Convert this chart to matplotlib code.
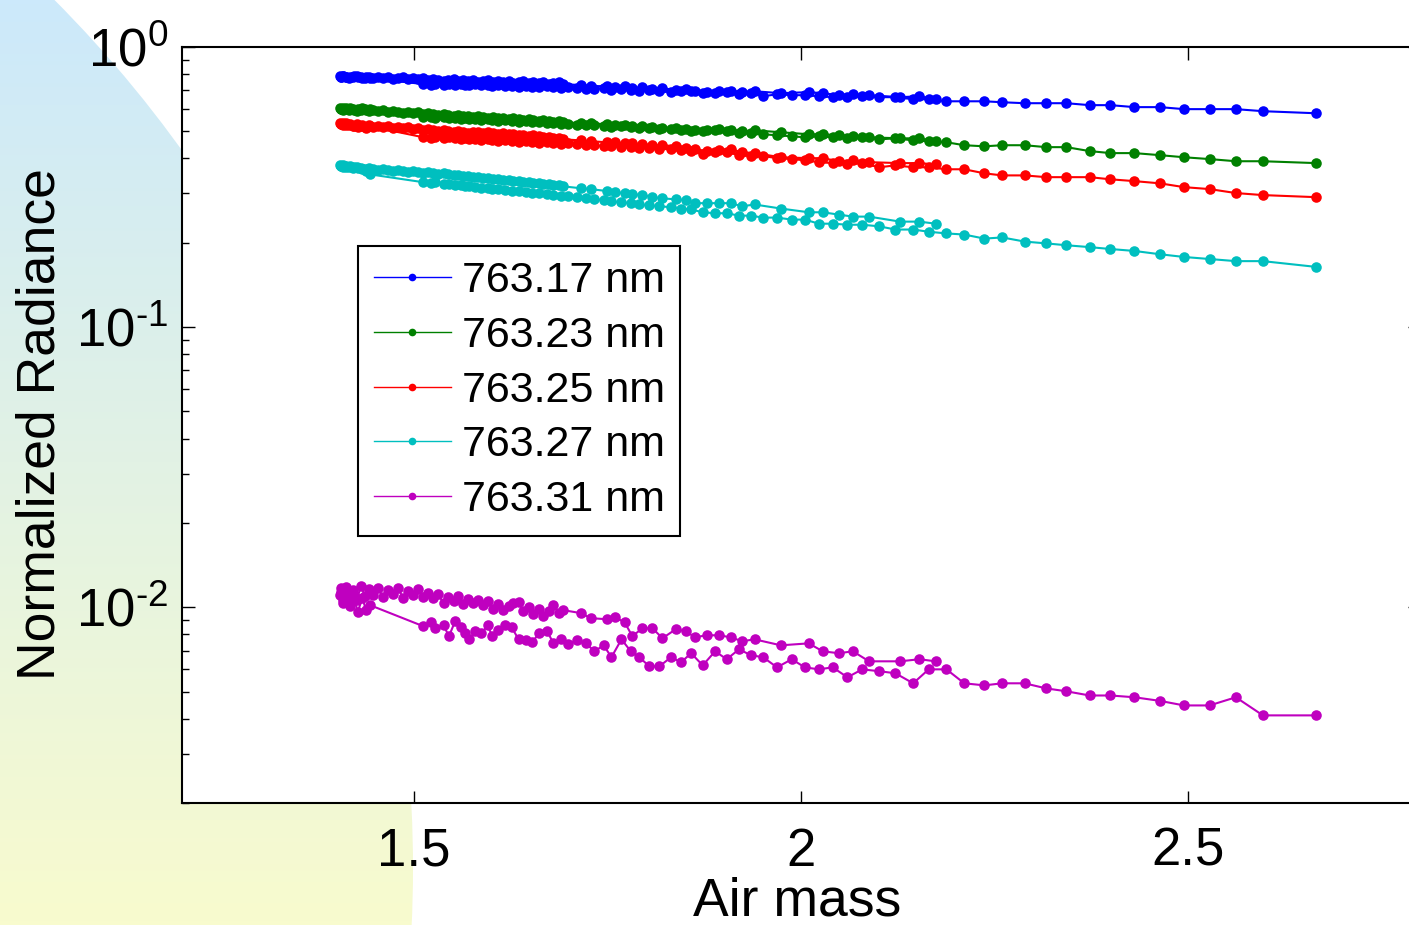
import numpy as np
import matplotlib
matplotlib.use("Agg")
import matplotlib.pyplot as plt
from matplotlib.patches import Circle
from matplotlib.ticker import NullLocator

W, H, DPI = 1409, 925, 100

FONTSIZE_LABELS = 38.5
FONTSIZE_TICKS = 38
FONTSIZE_LEGEND = 31

plt.rcParams['font.family'] = ['Liberation Sans', 'DejaVu Sans']
plt.rcParams['mathtext.fontset'] = 'custom'
plt.rcParams['mathtext.rm'] = 'Liberation Sans'
plt.rcParams['mathtext.default'] = 'regular'
plt.rcParams['axes.unicode_minus'] = False

# air mass of each spectrum: morning (falling), around noon, afternoon (rising)
airmass_am = [2.666, 2.597, 2.562, 2.528, 2.495, 2.464, 2.431, 2.400, 2.373, 2.343,
              2.317, 2.289, 2.260, 2.237, 2.211, 2.188, 2.165, 2.145, 2.122, 2.101,
              2.079, 2.060, 2.041, 2.023, 2.005, 1.988, 1.969, 1.951, 1.935, 1.920,
              1.904, 1.889, 1.873, 1.858, 1.845, 1.832, 1.817, 1.804, 1.791, 1.780,
              1.768, 1.755, 1.745, 1.733, 1.722, 1.710, 1.699, 1.690, 1.680, 1.672,
              1.662, 1.652, 1.644, 1.635, 1.626, 1.617, 1.609, 1.601, 1.595, 1.587,
              1.579, 1.571, 1.566, 1.560, 1.553, 1.545, 1.538, 1.527, 1.522, 1.512]
airmass_noon = [1.443, 1.438, 1.433, 1.427, 1.422, 1.417, 1.412, 1.408, 1.405, 1.404,
                1.405, 1.408, 1.412, 1.416, 1.421, 1.426, 1.431, 1.437, 1.442, 1.447,
                1.453, 1.460, 1.466, 1.473, 1.479, 1.486, 1.492, 1.499, 1.505, 1.512,
                1.518, 1.525, 1.531, 1.538, 1.544, 1.551, 1.557, 1.563, 1.570, 1.576,
                1.583, 1.589, 1.596, 1.602, 1.609, 1.615, 1.622, 1.628, 1.635, 1.641,
                1.648, 1.654, 1.661, 1.667, 1.674, 1.680, 1.687, 1.693]
airmass_pm = [1.716, 1.728, 1.749, 1.759, 1.772, 1.782, 1.795, 1.808, 1.821, 1.838,
              1.851, 1.863, 1.878, 1.894, 1.909, 1.924, 1.940, 1.974, 2.010, 2.028,
              2.049, 2.067, 2.088, 2.128, 2.153, 2.174]

rad_76317 = [
    # morning
    0.580, 0.590, 0.600, 0.600, 0.600, 0.610, 0.610, 0.620, 0.620, 0.630,
    0.630, 0.630, 0.635, 0.640, 0.640, 0.640, 0.651, 0.651, 0.662, 0.662,
    0.667, 0.662, 0.662, 0.667, 0.673, 0.673, 0.678, 0.667, 0.684, 0.678,
    0.690, 0.684, 0.684, 0.695, 0.695, 0.690, 0.695, 0.701, 0.695, 0.701,
    0.707, 0.701, 0.713, 0.707, 0.707, 0.713, 0.719, 0.713, 0.719, 0.725,
    0.719, 0.719, 0.725, 0.719, 0.725, 0.725, 0.731, 0.725, 0.731, 0.731,
    0.737, 0.731, 0.731, 0.737, 0.731, 0.737, 0.731, 0.737, 0.731, 0.737,
    # noon
    0.775, 0.781, 0.775, 0.781, 0.788, 0.781, 0.781, 0.788, 0.781, 0.788,
    0.781, 0.788, 0.781, 0.775, 0.781, 0.788, 0.781, 0.775, 0.781, 0.775,
    0.781, 0.775, 0.781, 0.768, 0.775, 0.781, 0.768, 0.775, 0.768, 0.775,
    0.762, 0.768, 0.762, 0.756, 0.762, 0.768, 0.756, 0.762, 0.756, 0.762,
    0.749, 0.756, 0.762, 0.749, 0.756, 0.749, 0.756, 0.743, 0.749, 0.756,
    0.743, 0.749, 0.743, 0.749, 0.737, 0.743, 0.749, 0.737,
    # afternoon
    0.731, 0.725, 0.725, 0.719, 0.725, 0.713, 0.719, 0.707, 0.713, 0.701,
    0.707, 0.695, 0.690, 0.695, 0.695, 0.690, 0.695, 0.684, 0.690, 0.684,
    0.673, 0.678, 0.673, 0.662, 0.667, 0.651]

rad_76323 = [
    0.385, 0.391, 0.391, 0.398, 0.404, 0.411, 0.418, 0.418, 0.425, 0.439,
    0.439, 0.446, 0.446, 0.442, 0.446, 0.457, 0.461, 0.464, 0.472, 0.468,
    0.476, 0.472, 0.476, 0.480, 0.476, 0.480, 0.484, 0.488, 0.492, 0.492,
    0.500, 0.504, 0.500, 0.500, 0.504, 0.508, 0.508, 0.513, 0.513, 0.517,
    0.521, 0.517, 0.521, 0.526, 0.526, 0.526, 0.530, 0.530, 0.534, 0.534,
    0.539, 0.539, 0.543, 0.539, 0.543, 0.548, 0.543, 0.548, 0.552, 0.548,
    0.552, 0.552, 0.557, 0.552, 0.557, 0.557, 0.562, 0.557, 0.562, 0.562,
    0.600, 0.595, 0.605, 0.600, 0.595, 0.605, 0.600, 0.605, 0.600, 0.605,
    0.600, 0.595, 0.605, 0.595, 0.600, 0.590, 0.595, 0.600, 0.590, 0.595,
    0.590, 0.595, 0.585, 0.590, 0.585, 0.580, 0.585, 0.580, 0.585, 0.576,
    0.580, 0.576, 0.571, 0.576, 0.571, 0.566, 0.571, 0.566, 0.566, 0.562,
    0.566, 0.562, 0.557, 0.562, 0.557, 0.557, 0.552, 0.557, 0.552, 0.548,
    0.552, 0.548, 0.543, 0.548, 0.543, 0.539, 0.543, 0.539,
    0.534, 0.534, 0.530, 0.526, 0.526, 0.521, 0.521, 0.517, 0.513, 0.513,
    0.508, 0.504, 0.504, 0.508, 0.504, 0.500, 0.504, 0.496, 0.488, 0.488,
    0.484, 0.480, 0.476, 0.472, 0.472, 0.461]

rad_76325 = [
    0.291, 0.296, 0.301, 0.311, 0.316, 0.326, 0.332, 0.337, 0.343, 0.343,
    0.343, 0.348, 0.348, 0.354, 0.366, 0.366, 0.372, 0.372, 0.378, 0.372,
    0.385, 0.381, 0.385, 0.388, 0.394, 0.398, 0.401, 0.408, 0.408, 0.411,
    0.421, 0.421, 0.414, 0.425, 0.428, 0.432, 0.432, 0.435, 0.435, 0.439,
    0.439, 0.442, 0.442, 0.446, 0.446, 0.450, 0.453, 0.450, 0.453, 0.457,
    0.453, 0.457, 0.461, 0.457, 0.461, 0.464, 0.461, 0.464, 0.468, 0.464,
    0.468, 0.468, 0.472, 0.468, 0.472, 0.476, 0.472, 0.476, 0.472, 0.476,
    0.521, 0.513, 0.526, 0.517, 0.521, 0.530, 0.526, 0.534, 0.530, 0.534,
    0.530, 0.526, 0.534, 0.526, 0.521, 0.530, 0.521, 0.517, 0.526, 0.517,
    0.521, 0.517, 0.521, 0.513, 0.517, 0.513, 0.517, 0.508, 0.513, 0.504,
    0.508, 0.504, 0.500, 0.504, 0.500, 0.496, 0.500, 0.496, 0.492, 0.496,
    0.496, 0.492, 0.496, 0.492, 0.488, 0.492, 0.488, 0.488, 0.484, 0.484,
    0.480, 0.484, 0.480, 0.476, 0.476, 0.472, 0.472, 0.468,
    0.464, 0.461, 0.457, 0.457, 0.453, 0.453, 0.450, 0.446, 0.446, 0.442,
    0.435, 0.432, 0.425, 0.428, 0.432, 0.421, 0.418, 0.404, 0.401, 0.401,
    0.391, 0.394, 0.388, 0.385, 0.385, 0.381]

rad_76327 = [
    0.164, 0.172, 0.172, 0.175, 0.178, 0.182, 0.187, 0.190, 0.193, 0.196,
    0.199, 0.202, 0.209, 0.207, 0.214, 0.216, 0.219, 0.223, 0.223, 0.229,
    0.232, 0.232, 0.234, 0.234, 0.242, 0.242, 0.246, 0.246, 0.250, 0.250,
    0.255, 0.255, 0.257, 0.263, 0.265, 0.268, 0.270, 0.272, 0.274, 0.277,
    0.279, 0.281, 0.284, 0.286, 0.288, 0.291, 0.293, 0.293, 0.296, 0.298,
    0.301, 0.301, 0.303, 0.306, 0.306, 0.308, 0.311, 0.311, 0.313, 0.313,
    0.316, 0.318, 0.318, 0.321, 0.321, 0.324, 0.324, 0.329, 0.326, 0.329,
    0.351, 0.360, 0.366, 0.369, 0.372, 0.375, 0.372, 0.378, 0.375, 0.378,
    0.375, 0.372, 0.375, 0.372, 0.369, 0.372, 0.369, 0.366, 0.369, 0.366,
    0.363, 0.366, 0.363, 0.360, 0.363, 0.360, 0.357, 0.360, 0.357, 0.354,
    0.357, 0.354, 0.351, 0.354, 0.351, 0.348, 0.348, 0.345, 0.345, 0.343,
    0.343, 0.340, 0.340, 0.337, 0.337, 0.334, 0.334, 0.332, 0.332, 0.329,
    0.329, 0.326, 0.326, 0.324, 0.324, 0.321, 0.321, 0.318,
    0.313, 0.311, 0.306, 0.303, 0.301, 0.298, 0.296, 0.291, 0.288, 0.286,
    0.284, 0.277, 0.277, 0.277, 0.277, 0.270, 0.274, 0.265, 0.257, 0.257,
    0.252, 0.248, 0.248, 0.238, 0.238, 0.234]

rad_76331 = [
    0.00411, 0.00411, 0.00477, 0.00446, 0.00446, 0.00463, 0.00477, 0.00484, 0.00484, 0.00501,
    0.00513, 0.00535, 0.00535, 0.00526, 0.00535, 0.00600, 0.00600, 0.00535, 0.00581, 0.00591,
    0.00600, 0.00562, 0.00610, 0.00600, 0.00610, 0.00652, 0.00610, 0.00663, 0.00674, 0.00708,
    0.00652, 0.00696, 0.00620, 0.00685, 0.00636, 0.00663, 0.00615, 0.00615, 0.00663, 0.00696,
    0.00768, 0.00663, 0.00731, 0.00696, 0.00743, 0.00762, 0.00737, 0.00768, 0.00743, 0.00821,
    0.00807, 0.00750, 0.00762, 0.00768, 0.00848, 0.00862, 0.00827, 0.00788, 0.00862, 0.00807,
    0.00821, 0.00768, 0.00807, 0.00848, 0.00891, 0.00788, 0.00862, 0.00841, 0.00884, 0.00855,
    0.01017, 0.00976, 0.01077, 0.00960, 0.01104, 0.01008, 0.01151, 0.01059, 0.01170, 0.01104,
    0.01132, 0.01033, 0.01179, 0.01077, 0.01151, 0.01059, 0.01189, 0.01095, 0.01160, 0.01104,
    0.01170, 0.01086, 0.01151, 0.01113, 0.01170, 0.01077, 0.01141, 0.01104, 0.01160, 0.01086,
    0.01123, 0.01077, 0.01113, 0.01033, 0.01086, 0.01051, 0.01095, 0.01025, 0.01068, 0.01033,
    0.01059, 0.01017, 0.01051, 0.00984, 0.01025, 0.00976, 0.01008, 0.01033, 0.01042, 0.00968,
    0.01000, 0.00944, 0.00984, 0.00929, 0.00968, 0.01017, 0.00952, 0.00976,
    0.00952, 0.00914, 0.00906, 0.00921, 0.00884, 0.00788, 0.00841, 0.00841, 0.00775, 0.00834,
    0.00821, 0.00781, 0.00794, 0.00794, 0.00781, 0.00756, 0.00768, 0.00731, 0.00743, 0.00696,
    0.00685, 0.00696, 0.00641, 0.00641, 0.00652, 0.00641]

labels = ['763.17 nm', '763.23 nm', '763.25 nm', '763.27 nm', '763.31 nm']
colors = ['#0000ff', '#008000', '#ff0000', '#00bfbf', '#bf00bf']


def main():
    airmass = np.array(airmass_am + airmass_noon + airmass_pm)
    series = [rad_76317, rad_76323, rad_76325, rad_76327, rad_76331]

    fig = plt.figure(figsize=(W / DPI, H / DPI), dpi=DPI)
    fig.patch.set_facecolor('white')

    # slide background: gradient blob on the left
    bg = fig.add_axes([0, 0, 1, 1], zorder=0)
    bg.set_xlim(0, W)
    bg.set_ylim(0, H)
    bg.axis('off')
    top = np.array([204, 233, 251]) / 255
    bot = np.array([248, 251, 206]) / 255
    t = np.linspace(0, 1, 256)[:, None]
    grad = (top * (1 - t) + bot * t)[:, None, :]
    im = bg.imshow(grad, extent=(0, W, 0, H), origin='upper', aspect='auto')
    blob = Circle((-817, 57), 1230, transform=bg.transData)
    im.set_clip_path(blob)

    ax = fig.add_axes([182 / W, 122 / H, 1238 / W, 756 / H], zorder=1)
    ax.set_facecolor('white')
    for y, c, lab in zip(series, colors, labels):
        ax.plot(airmass, y, '-', color=c, lw=1.5, marker='o', ms=7.6,
                mew=0, label=lab)

    ax.set_yscale('log')
    ax.set_xlim(1.2, 2.8)
    ax.set_ylim(2e-3, 1)
    ax.set_xticks([1.5, 2, 2.5])
    ax.set_xticklabels(['1.5', '2', '2.5'])
    ax.xaxis.set_minor_locator(NullLocator())
    ax.set_yticks([1e-2, 1e-1, 1])
    ax.set_yticklabels([r'$10^{\text{-}2}$', r'$10^{\text{-}1}$', r'$10^{0}$'])
    ax.tick_params(which='both', direction='in', top=True, right=True,
                   width=1.0, labelsize=FONTSIZE_TICKS)
    ax.tick_params(which='major', length=9)
    ax.tick_params(which='minor', length=5)
    ax.tick_params(axis='x', pad=17)
    ax.tick_params(axis='y', pad=10)
    for s in ax.spines.values():
        s.set_linewidth(1.5)

    ax.set_xlabel('Air mass', fontsize=FONTSIZE_LABELS)
    ax.set_ylabel('Normalized Radiance', fontsize=FONTSIZE_LABELS)
    ax.xaxis.set_label_coords(0.497, -0.097)
    ax.yaxis.set_label_coords(-0.094, 0.501)

    leg = ax.legend(loc='upper left', bbox_to_anchor=(0.1422, 0.7368),
                    fontsize=FONTSIZE_LEGEND, frameon=True, fancybox=False,
                    edgecolor='black', framealpha=1, handlelength=1.8,
                    handletextpad=0.25, borderpad=0.36, labelspacing=0.34,
                    numpoints=1, borderaxespad=0)
    leg.get_frame().set_linewidth(1.5)
    for h in leg.get_lines():
        h.set_linewidth(1.0)
        h.set_markersize(5.5)

    fig.savefig('out.png', dpi=DPI)


if __name__ == "__main__":
    main()
